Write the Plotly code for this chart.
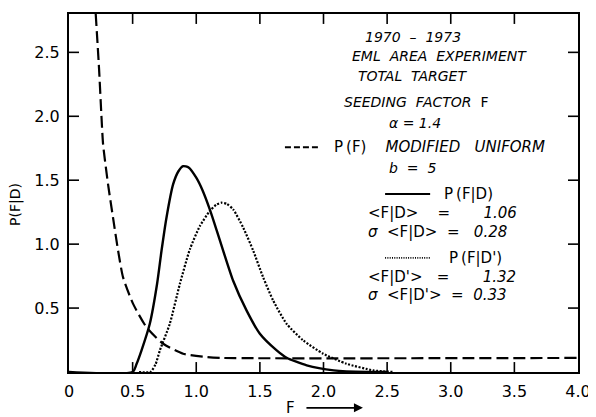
import plotly.graph_objects as go

# ---- data ----
# P(F) modified uniform prior (dashed)
prior_F = [0.21, 0.236, 0.255, 0.268, 0.307, 0.346, 0.386, 0.425, 0.504, 0.609, 0.74, 0.897, 1.08, 1.2, 4.0]
prior_P = [2.8, 2.375, 2.0, 1.78, 1.467, 1.207, 0.948, 0.74, 0.533, 0.35, 0.221, 0.143, 0.117, 0.11, 0.11]

# P(F|D) posterior (solid)
postD_F = [0.0, 0.5, 0.53, 0.57, 0.635, 0.692, 0.727, 0.766, 0.818, 0.86, 0.897, 0.94, 1.0, 1.05,
           1.107, 1.16, 1.212, 1.29, 1.396, 1.5, 1.632, 1.71, 1.868, 2.08, 2.34, 2.5]
postD_P = [0.0, 0.0, 0.06, 0.169, 0.377, 0.688, 0.948, 1.207, 1.467, 1.57, 1.61, 1.6, 1.52, 1.42,
           1.27, 1.11, 0.948, 0.714, 0.48, 0.299, 0.169, 0.112, 0.052, 0.013, 0.0, 0.0]

# P(F|D') posterior (dotted)
postDp_F = [0.55, 0.64, 0.68, 0.714, 0.792, 0.871, 0.95, 1.028, 1.107, 1.16, 1.2, 1.24, 1.29,
            1.369, 1.448, 1.526, 1.605, 1.71, 1.841, 1.998, 2.18, 2.39, 2.55]
postDp_P = [0.0, 0.0, 0.06, 0.169, 0.377, 0.688, 0.96, 1.14, 1.26, 1.31, 1.324, 1.315, 1.272,
            1.129, 0.948, 0.74, 0.558, 0.377, 0.247, 0.143, 0.065, 0.013, 0.0]

x_ticks = [0, 0.5, 1.0, 1.5, 2.0, 2.5, 3.0, 3.5, 4.0]
x_tick_text = ["0", "0.5", "1.0", "1.5", "2.0", "2.5", "3.0", "3.5", "4.0"]
y_ticks = [0.5, 1.0, 1.5, 2.0, 2.5]
y_tick_text = ["0.5", "1.0", "1.5", "2.0", "2.5"]

X_RANGE = [0, 4.0]
Y_RANGE = [0, 2.8]

FONT = "DejaVu Sans"
BLACK = "#000000"

fig = go.Figure()
fig.add_trace(go.Scatter(x=prior_F, y=prior_P, mode="lines",
                         line=dict(color=BLACK, width=2.2, dash="12px,5px", shape="spline", smoothing=0.6),
                         showlegend=False))
fig.add_trace(go.Scatter(x=postD_F, y=postD_P, mode="lines",
                         line=dict(color=BLACK, width=2.4, shape="spline", smoothing=0.6),
                         showlegend=False))
fig.add_trace(go.Scatter(x=postDp_F, y=postDp_P, mode="lines",
                         line=dict(color=BLACK, width=2.2, dash="2px,1.6px", shape="spline", smoothing=0.6),
                         showlegend=False))

# inward tick marks on all four sides (10 px long), built from the tick arrays
PLOT_W, PLOT_H, TLEN = 509.0, 360.0, 10.0
dy = TLEN / PLOT_H * (Y_RANGE[1] - Y_RANGE[0])
dx = TLEN / PLOT_W * (X_RANGE[1] - X_RANGE[0])
tx, ty = [], []
for xv in x_ticks[1:-1]:
    tx += [xv, xv, None, xv, xv, None]
    ty += [Y_RANGE[0], Y_RANGE[0] + dy, None, Y_RANGE[1] - dy, Y_RANGE[1], None]
for yv in y_ticks:
    tx += [X_RANGE[0], X_RANGE[0] + dx, None, X_RANGE[1] - dx, X_RANGE[1], None]
    ty += [yv, yv, None, yv, yv, None]
fig.add_trace(go.Scatter(x=tx, y=ty, mode="lines", line=dict(color=BLACK, width=1.6),
                         connectgaps=False, showlegend=False, hoverinfo="skip"))

tf = dict(family=FONT, size=14, color=BLACK)
tf15 = dict(family=FONT, size=15, color=BLACK)
ann = []

def add(text, x, y, anchor="center", font=tf):
    ann.append(dict(text=text, x=x, y=y, xref="x", yref="y", showarrow=False,
                    xanchor=anchor, yanchor="middle", font=font))

NB = "\u00a0"
TH = "\u2009"
add("<i>1970" + NB * 2 + "–" + NB * 2 + "1973</i>", 2.70, 2.62)
add("<i>EML" + NB * 2 + "AREA" + NB * 2 + "EXPERIMENT</i>", 2.91, 2.474)
add("<i>TOTAL" + NB * 2 + "TARGET</i>", 2.70, 2.318)
add("<i>SEEDING" + NB * 2 + "FACTOR</i>" + NB * 2 + "F", 2.73, 2.115)
add("<i>α" + NB + "=" + NB + "1.4</i>", 2.72, 1.945)
add("P" + TH + "(F)" + NB * 4 + "<i>MODIFIED" + NB * 3 + "UNIFORM</i>", 2.067, 1.758, "left", tf15)
add("<i>b" + NB * 2 + "=" + NB * 2 + "5</i>", 2.70, 1.594)
add("P" + TH + "(F|D)", 2.93, 1.392, "left", tf15)
add("&lt;F|D&gt;" + NB * 4 + "=" + NB * 7 + "<i>1.06</i>", 2.334, 1.244, "left", tf15)
add("<i>σ</i>" + NB * 2 + "&lt;F|D&gt;" + NB * 2 + "=" + NB * 3 + "<i>0.28</i>", 2.334, 1.096, "left", tf15)
add("P" + TH + "(F|D')", 2.97, 0.893, "left", tf15)
add("&lt;F|D'&gt;" + NB * 3 + "=" + NB * 7 + "<i>1.32</i>", 2.334, 0.745, "left", tf15)
add("<i>σ</i>" + NB * 2 + "&lt;F|D'&gt;" + NB * 2 + "=" + NB * 2 + "<i>0.33</i>", 2.334, 0.605, "left", tf15)

# axis titles
ann.append(dict(text="P(F|D)", x=-0.104, y=0.467, xref="paper", yref="paper", showarrow=False,
                xanchor="center", yanchor="middle",
                textangle=-90, font=dict(family=FONT, size=14, color=BLACK)))
ann.append(dict(text="F", x=0.435, y=-0.1, xref="paper", yref="paper", showarrow=False,
                xanchor="center", yanchor="middle",
                font=dict(family=FONT, size=15, color=BLACK)))
ann.append(dict(text="", x=0.5775, y=-0.1, xref="paper", yref="paper", showarrow=True,
                ax=-58, ay=0, arrowhead=2, arrowsize=1, arrowwidth=1.8, arrowcolor=BLACK))

# legend sample lines
shapes = [
    dict(type="line", xref="x", yref="y", x0=1.697, x1=1.956, y0=1.758, y1=1.758, opacity=1, layer="above",
         line=dict(color=BLACK, width=1.8, dash="6px,3px")),
    dict(type="line", xref="x", yref="y", x0=2.484, x1=2.838, y0=1.392, y1=1.392, opacity=1, layer="above",
         line=dict(color=BLACK, width=1.8, dash="solid")),
    dict(type="line", xref="x", yref="y", x0=2.484, x1=2.838, y0=0.893, y1=0.893, opacity=1, layer="above",
         line=dict(color=BLACK, width=1.8, dash="1px,1.3px")),
]

xaxis = dict(range=X_RANGE, tickmode="array", tickvals=x_ticks, ticktext=x_tick_text,
             showgrid=False, zeroline=False, showline=True, linecolor=BLACK, linewidth=2,
             mirror=True, ticks="", showticklabels=True, ticklabelstandoff=4,
             tickfont=dict(family=FONT, size=16, color=BLACK))
yaxis = dict(range=Y_RANGE, tickmode="array", tickvals=y_ticks, ticktext=y_tick_text,
             showgrid=False, zeroline=False, showline=True, linecolor=BLACK, linewidth=2,
             mirror=True, ticks="", showticklabels=True, ticklabelstandoff=4,
             tickfont=dict(family=FONT, size=16, color=BLACK))

# page body has an 8px default margin, so the figure is sized and placed to compensate
fig.update_layout(template="simple_white", width=588, height=409,
                  margin=dict(l=61, r=18, t=4, b=45),
                  xaxis=xaxis, yaxis=yaxis, annotations=ann, shapes=shapes,
                  paper_bgcolor="white", plot_bgcolor="white", showlegend=False)

fig.write_html("out.html")
